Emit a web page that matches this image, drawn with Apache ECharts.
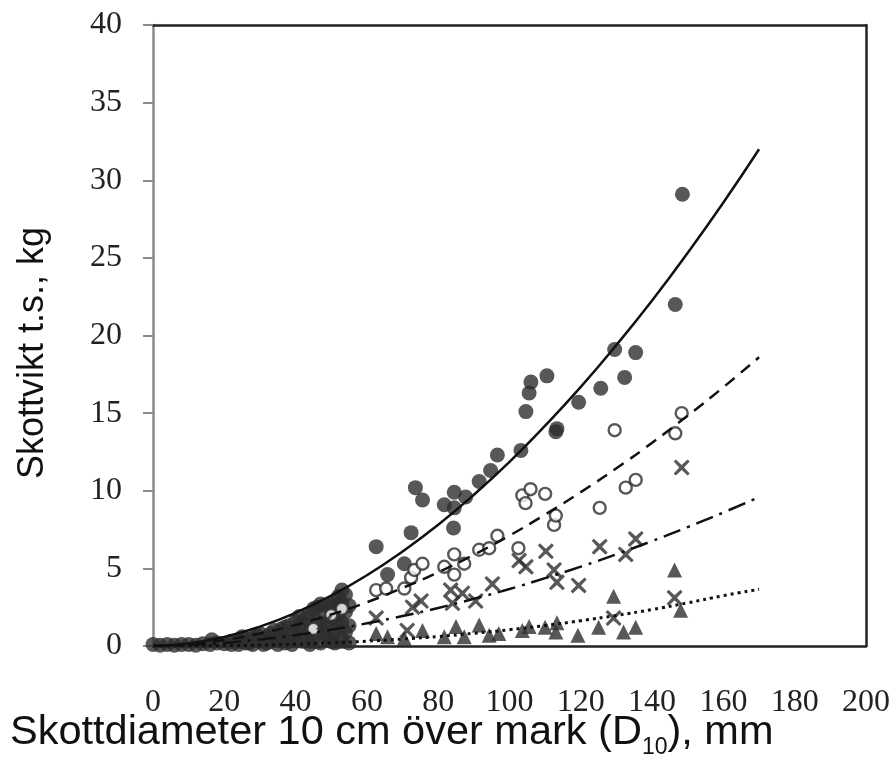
<!DOCTYPE html>
<html>
<head>
<meta charset="utf-8">
<script src="https://cdn.jsdelivr.net/npm/echarts@6/dist/echarts.min.js"></script>
<style>
  html, body { margin: 0; padding: 0; background: #fff; }
  #chart { width: 891px; height: 776px; }
</style>
</head>
<body>
<div id="chart"></div>
<script>
// x-axis ticks / y-axis ticks
var xTicks = [0, 20, 40, 60, 80, 100, 120, 140, 160, 180, 200];
var yTicks = [0, 5, 10, 15, 20, 25, 30, 35, 40];

var fitX = [0, 10, 20, 30, 40, 50, 60, 70, 80, 90, 100, 110, 120, 130, 140, 150, 160, 170];
var solidY = [0, 0.16, 0.58, 1.25, 2.14, 3.24, 4.56, 6.09, 7.81, 9.74, 11.86, 14.19, 16.69, 19.39, 22.26, 25.33, 28.57, 32.0];
var dashY = [0, 0.11, 0.39, 0.81, 1.36, 2.03, 2.82, 3.74, 4.75, 5.88, 7.11, 8.47, 9.91, 11.45, 13.09, 14.84, 16.67, 18.6];
var dashDotY = [0, 0.06, 0.2, 0.42, 0.7, 1.05, 1.46, 1.93, 2.45, 3.04, 3.67, 4.37, 5.11, 5.91, 6.76, 7.66, 8.6, 9.6];
var dottedY = [0, 0, 0.02, 0.06, 0.12, 0.2, 0.31, 0.45, 0.61, 0.82, 1.05, 1.32, 1.63, 1.97, 2.35, 2.78, 3.24, 3.65];

// filled circles
var filledPts = [
  [0, 0.1], [2, 0.05], [4, 0.1], [6, 0.05], [8, 0.1], [10, 0.1], [12, 0.05], [14, 0.15],
  [16, 0.1], [16.5, 0.4], [18, 0.2], [20, 0.15], [22, 0.1], [22, 0.3], [24, 0.3], [24, 0.1],
  [25, 0.6], [26, 0.2], [26, 0.5], [27, 0.2], [28, 0.5], [28, 0.1], [29, 0.7], [30, 0.3],
  [30, 0.8], [31, 0.1], [32, 0.2], [32, 0.6], [33, 0.8], [33, 0.3], [34, 1.0], [35, 0.5],
  [35, 0.1], [36, 1.1], [36, 0.6], [37, 0.2], [37, 1.2], [38, 0.3], [38, 1.3], [39, 0.9],
  [39, 0.1], [40, 0.8], [40, 1.6], [40, 0.4], [41, 1.2], [41, 1.9], [42, 0.3], [42, 1.5],
  [43, 0.6], [43, 1.8], [44, 1.0], [44, 2.1], [44, 0.1], [45, 0.4], [45, 2.4], [46, 1.6],
  [46, 2.5], [46, 0.9], [47, 0.2], [47, 1.3], [47, 2.7], [48, 0.8], [48, 2.2], [49, 1.5],
  [49, 0.5], [49, 2.6], [50, 0.3], [50, 2.6], [50, 1.9], [51, 1.0], [51, 0.2], [51, 1.6],
  [51, 2.9], [52, 3.2], [52, 2.5], [52, 2.0], [53, 1.5], [53, 0.5], [53, 2.8], [53, 3.6],
  [54, 3.3], [54, 2.2], [54, 0.9], [55, 1.3], [55, 0.2], [55, 2.6],
  [62.6, 6.4], [65.8, 4.6], [70.5, 5.3], [72.4, 7.3], [73.6, 10.2], [75.6, 9.4], [81.7, 9.1],
  [84.5, 9.9], [84.5, 8.9], [84.3, 7.6], [87.7, 9.6], [91.5, 10.6], [94.7, 11.3], [96.6, 12.3],
  [103.2, 12.6], [104.6, 15.1], [105.5, 16.3], [106, 17.0], [110.5, 17.4], [113.3, 14.0],
  [113, 13.8], [119.4, 15.7], [125.6, 16.6], [129.5, 19.1], [132.3, 17.3], [135.4, 18.9],
  [146.5, 22.0], [148.5, 29.1]
];

// open circles
var openPts = [
  [45, 1.1], [50, 2.0], [53, 2.4],
  [62.6, 3.6], [65.4, 3.7], [70.5, 3.7], [72.4, 4.4], [73.3, 4.9], [75.6, 5.3], [81.7, 5.1],
  [84.5, 5.9], [84.5, 4.6], [87.3, 5.3], [91.5, 6.2], [94.3, 6.3], [96.6, 7.1], [102.5, 6.3],
  [103.6, 9.7], [105.9, 10.1], [104.5, 9.2], [110, 9.8], [112.5, 7.8], [113, 8.4], [125.3, 8.9],
  [129.5, 13.9], [132.6, 10.2], [135.4, 10.7], [146.5, 13.7], [148.3, 15.0]
];

// crosses
var crossPts = [
  [48, 1.5], [52, 1.2], [50, 0.5],
  [62.6, 1.8], [71.3, 1.0], [72.8, 2.5], [75.2, 2.9], [83.5, 3.6], [84, 2.75], [86.8, 3.4],
  [90.5, 2.9], [95.2, 4.0], [102.7, 5.5], [104.6, 5.1], [110.2, 6.1], [112.5, 4.9], [113.3, 4.1],
  [119.4, 3.9], [125.3, 6.4], [129.2, 1.8], [132.6, 5.9], [135.4, 6.9], [146.3, 3.1], [148.3, 11.5]
];

// triangles
var trianglePts = [
  [45, 0.3], [52, 0.3], [54, 0.4],
  [62.6, 0.8], [65.8, 0.6], [70.5, 0.5], [75.6, 1.0], [81.7, 0.6], [85, 1.25], [87.3, 0.6],
  [91.5, 1.35], [94.3, 0.7], [97, 0.8], [103.6, 1.0], [105.5, 1.25], [110, 1.2], [113, 0.9],
  [113.3, 1.5], [119.2, 0.7], [125, 1.2], [129.2, 3.2], [132, 0.9], [135.4, 1.2], [146.3, 4.9],
  [148, 2.3]
];

function pairs(xs, ys) {
  return xs.map(function (x, i) { return [x, ys[i]]; });
}

var ink = '#111';
var dot = '#2e2e2e';
var crossPath = 'path://M1.3,0 L5,3.4 L8.7,0 L10,1.3 L6.5,5 L10,8.7 L8.7,10 L5,6.6 L1.3,10 L0,8.7 L3.5,5 L0,1.3 Z';

var chart = echarts.init(document.getElementById('chart'));

var option = {
  animation: false,
  backgroundColor: '#fff',
  grid: { left: 153, right: 25, top: 25, bottom: 130, outerBoundsMode: 'none', containLabel: false },
  xAxis: [
    {
      type: 'value',
      min: xTicks[0],
      max: xTicks[xTicks.length - 1],
      interval: 20,
      axisLine: { onZero: false, lineStyle: { color: '#222', width: 2.5 } },
      axisTick: { show: false },
      splitLine: { show: false },
      axisLabel: {
        margin: 41,
        fontFamily: 'Liberation Serif',
        fontSize: 32,
        color: '#222'
      }
    },
    {
      // top frame
      type: 'value', position: 'top', min: 0, max: 200,
      axisLine: { show: true, onZero: false, lineStyle: { color: '#222', width: 2.5 } },
      axisTick: { show: false }, axisLabel: { show: false }, splitLine: { show: false }
    }
  ],
  yAxis: [
    {
      type: 'value',
      min: yTicks[0],
      max: yTicks[yTicks.length - 1],
      interval: 5,
      axisLine: { show: true, onZero: false, lineStyle: { color: '#8a8a8a', width: 2.5 } },
      axisTick: { show: true, length: 10, lineStyle: { color: '#8a8a8a', width: 2 } },
      splitLine: { show: false },
      axisLabel: {
        margin: 31,
        fontFamily: 'Liberation Serif',
        fontSize: 32,
        color: '#222'
      }
    },
    {
      // right frame
      type: 'value', position: 'right', min: 0, max: 40,
      axisLine: { show: true, onZero: false, lineStyle: { color: '#222', width: 2.5 } },
      axisTick: { show: false }, axisLabel: { show: false }, splitLine: { show: false }
    }
  ],
  graphic: [
    {
      // y title
      type: 'text',
      x: 33,
      y: 353,
      rotation: Math.PI / 2,
      style: {
        text: 'Skottvikt t.s., kg',
        fontFamily: 'Liberation Sans',
        fontSize: 36,
        fill: ink,
        align: 'center',
        verticalAlign: 'middle'
      }
    },
    {
      // x title with subscript
      type: 'text',
      left: 10,
      top: 712,
      style: {
        text: 'Skottdiameter 10 cm över mark (D{sub|10}), mm',
        fontFamily: 'Liberation Sans',
        fontSize: 41.5,
        fill: ink,
        rich: {
          sub: { fontFamily: 'Liberation Sans', fontSize: 23, fill: ink, padding: [30, 0, 0, 0] }
        }
      }
    }
  ],
  series: [
    {
      type: 'scatter', name: 'filled', data: filledPts,
      symbol: 'circle', symbolSize: 15,
      itemStyle: { color: dot }, z: 3
    },
    {
      type: 'scatter', name: 'open', data: openPts,
      symbol: 'circle', symbolSize: 12,
      itemStyle: { color: '#fff', borderColor: dot, borderWidth: 2.4 }, z: 3
    },
    {
      type: 'scatter', name: 'cross', data: crossPts,
      symbol: crossPath, symbolSize: 16,
      itemStyle: { color: dot }, z: 3
    },
    {
      type: 'scatter', name: 'triangle', data: trianglePts,
      symbol: 'triangle', symbolSize: 15,
      itemStyle: { color: dot }, z: 3
    },
    {
      type: 'line', data: pairs(fitX, solidY), showSymbol: false, smooth: true,
      lineStyle: { color: ink, width: 2.5, type: 'solid' }, z: 4
    },
    {
      type: 'line', data: pairs(fitX, dashY), showSymbol: false, smooth: true,
      lineStyle: { color: ink, width: 2.5, type: [12, 8] }, z: 4
    },
    {
      type: 'line', data: pairs(fitX, dashDotY), showSymbol: false, smooth: true,
      lineStyle: { color: ink, width: 2.5, type: [18, 7, 3, 7] }, z: 4
    },
    {
      type: 'line', data: pairs(fitX, dottedY), showSymbol: false, smooth: true,
      lineStyle: { color: ink, width: 3, type: [3, 4] }, z: 4
    }
  ]
};

chart.setOption(option);
</script>
</body>
</html>
